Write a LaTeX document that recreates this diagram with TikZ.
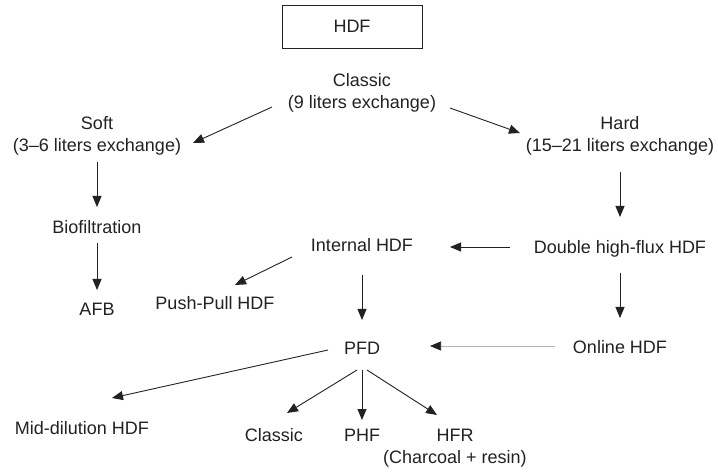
\documentclass[tikz,border=0pt]{standalone}
\usepackage{fontspec}
\setmainfont{Liberation Sans}
\usetikzlibrary{arrows.meta,calc}
\definecolor{ink}{HTML}{222222}
\definecolor{faint}{HTML}{B4B4B4}
\begin{document}
\begin{tikzpicture}[x=1pt,y=-1pt,
  lbl/.style={inner sep=0pt,text=ink,font=\fontsize{18}{22.5}\selectfont,text height=13pt,text depth=4pt},
  lbl2/.style={inner sep=0pt,text=ink,font=\fontsize{18}{22.5}\selectfont,align=center},
  arr/.style={draw=ink,line width=0.9pt,-{Triangle[length=11pt,width=9pt]}},
  garr/.style={draw=faint,line width=0.7pt,-{Triangle[length=11pt,width=9pt,color=ink]}}]
\useasboundingbox (0,0) rectangle (718,473);
\fill[white] (0,0) rectangle (718,473);
% nodes
\node[lbl,draw=ink,line width=0.8pt,minimum width=140pt,minimum height=43pt,text height=,text depth=] (hdf) at (352,26.5) {HDF};
\node[lbl2] (classic) at (362,93) {Classic\\(9 liters exchange)};
\node[lbl2] (soft) at (97,136) {Soft\\(3–6 liters exchange)};
\node[lbl2] (hard) at (620,136) {Hard\\(15–21 liters exchange)};
\node[lbl] (bio) at (97,229) {Biofiltration};
\node[lbl] (afb) at (97,311) {AFB};
\node[lbl] (internal) at (362,247) {Internal HDF};
\node[lbl] (double) at (620,249) {Double high-flux HDF};
\node[lbl] (push) at (215,305) {Push-Pull HDF};
\node[lbl] (pfd) at (362,350) {PFD};
\node[lbl] (online) at (620,349) {Online HDF};
\node[lbl] (mid) at (82,430) {Mid-dilution HDF};
\node[lbl] (classicb) at (274,437) {Classic};
\node[lbl] (phf) at (362,437) {PHF};
\node[lbl2] (hfr) at (455,448) {HFR\\(Charcoal + resin)};
% connectors
\draw[arr] ($(classic)+(-90,14)$) -- ($(soft)+(96,7)$);
\draw[arr] ($(classic)+(88,15)$) -- ($(hard)+(-100,-3)$);
\draw[arr] ($(soft)+(0,26)$) -- ($(bio)+(0,-22)$);
\draw[arr] ($(bio)+(0,14)$) -- ($(afb)+(0,-21)$);
\draw[arr] ($(hard)+(0,36)$) -- ($(double)+(0,-32)$);
\draw[arr] ($(double)+(-110,-2)$) -- ($(internal)+(88,0)$);
\draw[arr] ($(double)+(0,24)$) -- ($(online)+(0,-31)$);
\draw[garr] ($(online)+(-65,-3)$) -- ($(pfd)+(68,-4)$);
\draw[arr] ($(internal)+(-70,10)$) -- ($(push)+(20,-20)$);
\draw[arr] ($(internal)+(0,28)$) -- ($(pfd)+(0,-30)$);
\draw[arr] ($(pfd)+(-34,0)$) -- ($(mid)+(30,-32)$);
\draw[arr] ($(pfd)+(-5,20)$) -- ($(classicb)+(13,-24)$);
\draw[arr] ($(pfd)+(0,20)$) -- ($(phf)+(0,-17)$);
\draw[arr] ($(pfd)+(5,20)$) -- ($(hfr)+(-18,-33)$);
\end{tikzpicture}
\end{document}
